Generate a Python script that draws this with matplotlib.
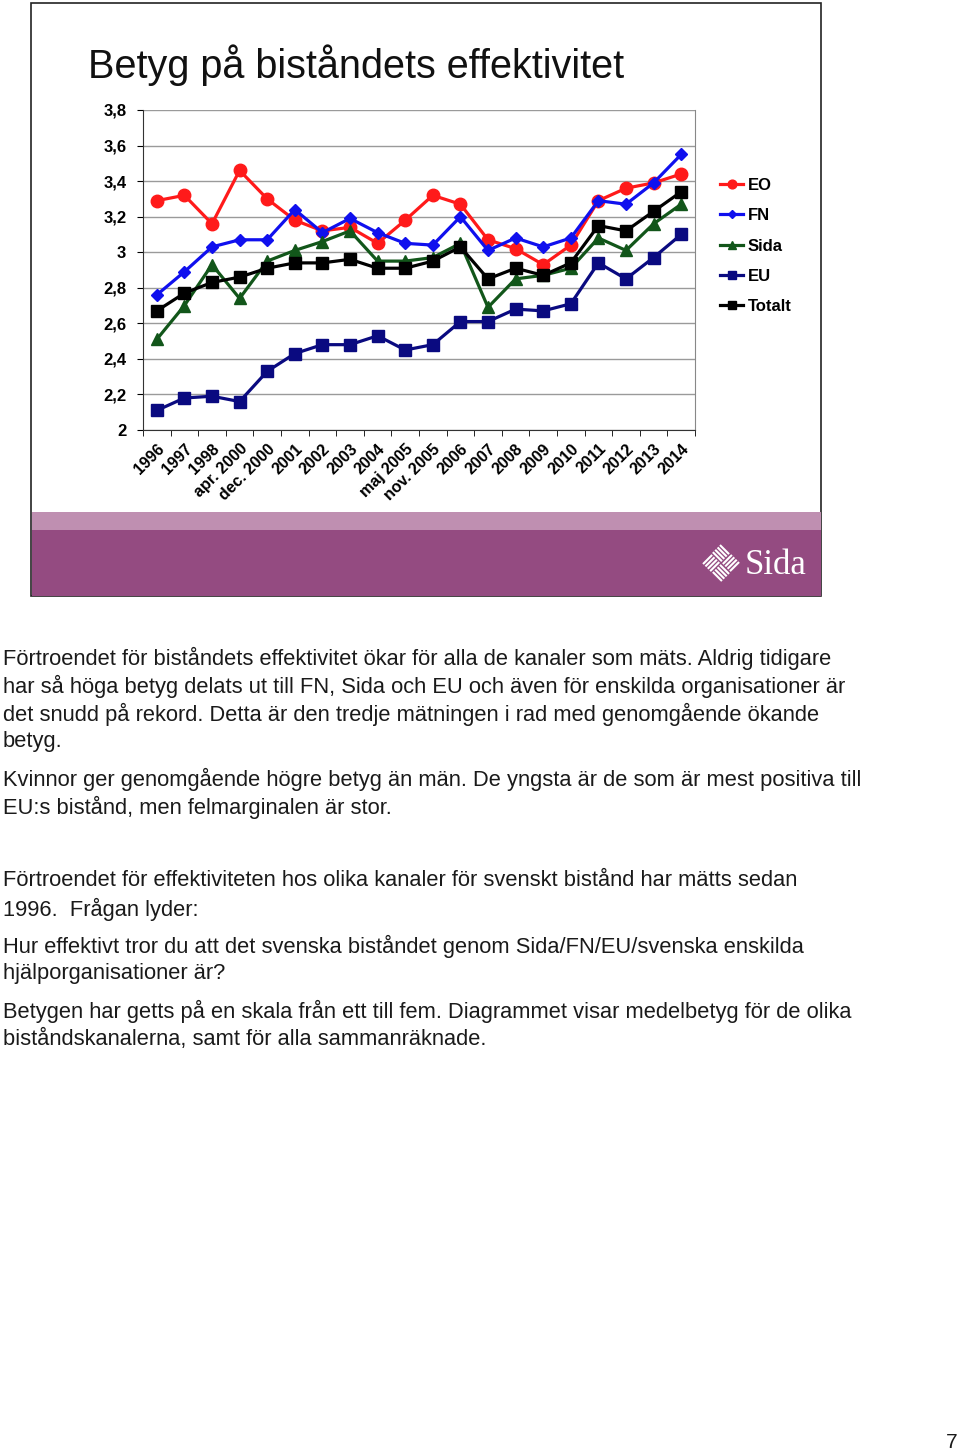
#!/usr/bin/env python3
"""Sida slide: Betyg på biståndets effektivitet, plus notes text below."""
import matplotlib
matplotlib.use("Agg")
import matplotlib.pyplot as plt
import matplotlib.transforms as mtrans
from matplotlib.patches import Rectangle
from matplotlib.ticker import FuncFormatter, FixedLocator

cats = ["1996", "1997", "1998", "apr. 2000", "dec. 2000", "2001", "2002", "2003",
        "2004", "maj 2005", "nov. 2005", "2006", "2007", "2008", "2009", "2010",
        "2011", "2012", "2013", "2014"]
eo = [3.29, 3.32, 3.16, 3.46, 3.30, 3.18, 3.12, 3.14, 3.05, 3.18,
      3.32, 3.27, 3.07, 3.02, 2.93, 3.04, 3.29, 3.36, 3.39, 3.44]
fn = [2.76, 2.89, 3.03, 3.07, 3.07, 3.24, 3.11, 3.19, 3.11, 3.05,
      3.04, 3.20, 3.01, 3.08, 3.03, 3.08, 3.29, 3.27, 3.39, 3.55]
sida = [2.51, 2.70, 2.93, 2.74, 2.95, 3.01, 3.06, 3.12, 2.95, 2.95,
        2.97, 3.05, 2.69, 2.85, 2.87, 2.91, 3.08, 3.01, 3.16, 3.27]
eu = [2.11, 2.18, 2.19, 2.16, 2.33, 2.43, 2.48, 2.48, 2.53, 2.45,
      2.48, 2.61, 2.61, 2.68, 2.67, 2.71, 2.94, 2.85, 2.97, 3.10]
totalt = [2.67, 2.77, 2.83, 2.86, 2.91, 2.94, 2.94, 2.96, 2.91, 2.91,
          2.95, 3.03, 2.85, 2.91, 2.87, 2.94, 3.15, 3.12, 3.23, 3.34]

series = [("EO", eo, "#ff1a1a", "o", 9),
          ("FN", fn, "#1010ee", "D", 6),
          ("Sida", sida, "#12561a", "^", 8),
          ("EU", eu, "#0a0a80", "s", 8),
          ("Totalt", totalt, "#000000", "s", 8)]

notes = [
    ("Förtroendet för biståndets effektivitet ökar för alla de kanaler som mäts. Aldrig tidigare", 658),
    ("har så höga betyg delats ut till FN, Sida och EU och även för enskilda organisationer är", 686),
    ("det snudd på rekord. Detta är den tredje mätningen i rad med genomgående ökande", 714),
    ("betyg.", 742),
    ("Kvinnor ger genomgående högre betyg än män. De yngsta är de som är mest positiva till", 779),
    ("EU:s bistånd, men felmarginalen är stor.", 807),
    ("Förtroendet för effektiviteten hos olika kanaler för svenskt bistånd har mätts sedan", 881),
    ("1996.  Frågan lyder:", 909),
    ("Hur effektivt tror du att det svenska biståndet genom Sida/FN/EU/svenska enskilda", 946),
    ("hjälporganisationer är?", 974),
    ("Betygen har getts på en skala från ett till fem. Diagrammet visar medelbetyg för de olika", 1011),
    ("biståndskanalerna, samt för alla sammanräknade.", 1039),
]

W, H = 960, 1453
fig = plt.figure(figsize=(W / 100, H / 100), dpi=100)
plt.rcParams["font.family"] = ["Liberation Sans", "DejaVu Sans"]

def fy(y):
    return 1 - y / H

# slide frame and purple bands
fig.patches.append(Rectangle((31 / W, fy(596)), 790 / W, 593 / H, transform=fig.transFigure,
                             facecolor="white", edgecolor="#222222", lw=1.2, zorder=-5))
fig.patches.append(Rectangle((31.5 / W, fy(530)), 789 / W, 18 / H, transform=fig.transFigure,
                             facecolor="#bf8fb1", edgecolor="none", zorder=-4))
fig.patches.append(Rectangle((31.5 / W, fy(595.5)), 789 / W, 65.5 / H, transform=fig.transFigure,
                             facecolor="#944b81", edgecolor="none", zorder=-4))

# Sida logo: basket-weave diamond drawn in a tiny axes, rotated 45 degrees
lax = fig.add_axes([700 / W, fy(584), 42 / W, 42 / H])
lax.set_xlim(-1.5, 1.5); lax.set_ylim(-1.5, 1.5); lax.axis("off")
rot = mtrans.Affine2D().rotate_deg(45) + lax.transData
for i in range(2):
    for j in range(2):
        x0, y0 = i - 1, j - 1
        for k in range(4):
            off = 0.06 + k * 0.24
            if (i + j) % 2 == 0:
                rect = Rectangle((x0 + off, y0 + 0.04), 0.15, 0.92)
            else:
                rect = Rectangle((x0 + 0.04, y0 + off), 0.92, 0.15)
            rect.set_facecolor("white"); rect.set_edgecolor("none")
            rect.set_transform(rot)
            lax.add_patch(rect)
fig.text(745 / W, fy(565), "Sida", color="white", fontsize=25, family="Liberation Serif",
         va="center", ha="left", zorder=3)

fig.text(88 / W, fy(65), "Betyg på biståndets effektivitet", fontsize=28.5, va="center",
         ha="left", color="#111111")

ax = fig.add_axes([143 / W, fy(430), 552 / W, 320 / H])
ax.set_zorder(2)
ax.patch.set_alpha(0)
x = list(range(len(cats)))
handles = []
for name, vals, col, mk, ms in series:
    h, = ax.plot(x, vals, color=col, lw=2.3, marker=mk, markersize=ms,
                 markeredgecolor=col, label=name, zorder=3)
    handles.append(h)

ax.set_xlim(-0.5, len(cats) - 0.5)
ax.set_ylim(2, 3.8)
yt = [2 + 0.2 * i for i in range(10)]
ax.set_yticks(yt)
ax.yaxis.set_major_formatter(FuncFormatter(lambda v, p: f"{v:.1f}".rstrip("0").rstrip(".").replace(".", ",")))
ax.yaxis.grid(True, color="#9a9a9a", lw=1)
ax.set_axisbelow(True)
ax.xaxis.set_major_locator(FixedLocator(x))
ax.set_xticklabels(cats, rotation=45, ha="right", rotation_mode="anchor",
                   fontsize=11.5, fontweight="bold")
ax.xaxis.set_minor_locator(FixedLocator([i - 0.5 for i in range(len(cats) + 1)]))
ax.tick_params(axis="x", which="major", length=0, pad=8)
ax.tick_params(axis="x", which="minor", length=4, direction="out")
ax.tick_params(axis="y", length=4, direction="out", labelsize=12, pad=8)
for lab in ax.get_yticklabels():
    lab.set_fontweight("bold")
ax.spines["top"].set_visible(False)
ax.spines["right"].set_color("#888888")
ax.spines["left"].set_color("#333333")
ax.spines["bottom"].set_color("#333333")

fig.legend(handles=handles, loc="upper left", bbox_to_anchor=(705 / W, fy(163)),
           bbox_transform=fig.transFigure, frameon=False, handlelength=1.4,
           handletextpad=0.25, labelspacing=0.92, markerscale=0.7,
           prop={"weight": "bold", "size": 12})

for txt, y in notes:
    fig.text(3 / W, fy(y), txt, fontsize=15.75, va="center", ha="left", color="#1a1a1a")

fig.text(952 / W, fy(1443), "7", fontsize=15, va="center", ha="center", color="#1a1a1a")

fig.savefig("out.png", dpi=100)
print("wrote out.png")
